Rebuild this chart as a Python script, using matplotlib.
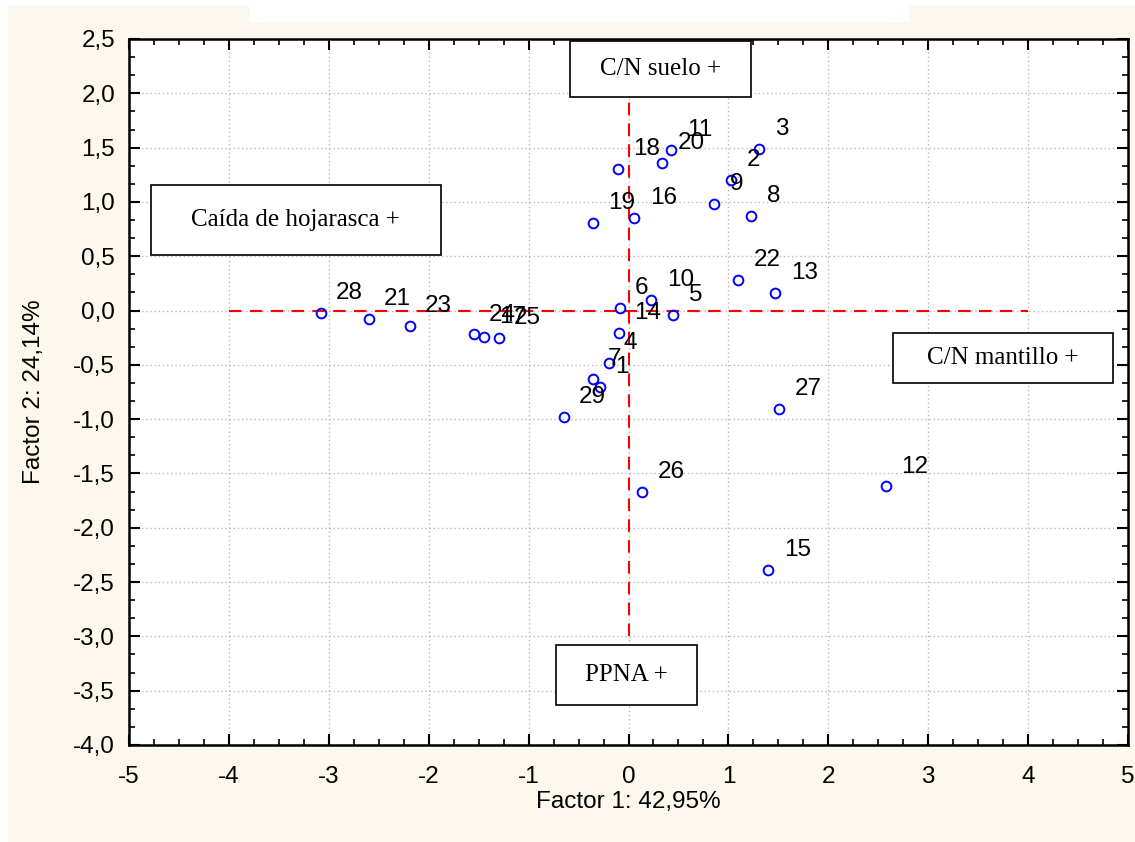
import matplotlib

matplotlib.use("Agg")
import matplotlib.pyplot as plt
from matplotlib.patches import Rectangle
from matplotlib.ticker import FuncFormatter, MultipleLocator

plt.rcParams["font.family"] = ["Liberation Sans", "DejaVu Sans"]

# PCA scores (Factor 1, Factor 2) for each site
site_ids = list(range(1, 30))
factor1 = [-0.29, 1.03, 1.31, -0.20, 0.45, -0.09, -0.36, 1.23, 0.86, 0.23,
           0.43, 2.58, 1.47, -0.10, 1.40, 0.06, -1.45, -0.11, -0.36, 0.34,
           -2.60, 1.10, -2.19, -1.55, -1.30, 0.14, 1.51, -3.08, -0.65]
factor2 = [-0.70, 1.20, 1.49, -0.48, -0.04, 0.02, -0.63, 0.87, 0.98, 0.10,
           1.48, -1.62, 0.16, -0.21, -2.39, 0.85, -0.24, 1.30, 0.81, 1.36,
           -0.08, 0.28, -0.14, -0.22, -0.25, -1.67, -0.91, -0.02, -0.98]

# interpretation boxes: text, x0, x1, y0, y1 (data units)
box_texts = ["C/N suelo +", "Caída de hojarasca +", "C/N mantillo +", "PPNA +"]
box_x = [(-0.59, 1.23), (-4.78, -1.88), (2.65, 4.85), (-0.73, 0.69)]
box_y = [(1.97, 2.48), (0.51, 1.155), (-0.67, -0.21), (-3.63, -3.08)]

W, H = 1135, 842
fig = plt.figure(figsize=(W / 100, H / 100), dpi=100)
fig.patch.set_facecolor("white")
# cream panel background, with the white notch on top
fig.patches.append(Rectangle((8 / W, 0), 1 - 8 / W, 1 - 6 / H,
                             transform=fig.transFigure, color="#fdf8ee", zorder=-10))
fig.patches.append(Rectangle((250 / W, 1 - 21 / H), 658 / W, 21 / H,
                             transform=fig.transFigure, color="white", zorder=-9))

ax = fig.add_axes([129 / W, 1 - 745 / H, 999 / W, 706 / H])
ax.set_facecolor("white")
ax.set_xlim(-5, 5)
ax.set_ylim(-4.0, 2.5)

ax.xaxis.set_major_locator(MultipleLocator(1))
ax.xaxis.set_minor_locator(MultipleLocator(0.25))
ax.yaxis.set_major_locator(MultipleLocator(0.5))
ax.yaxis.set_minor_locator(MultipleLocator(0.5 / 3))
ax.yaxis.set_major_formatter(FuncFormatter(lambda v, p: f"{v:.1f}".replace(".", ",")))
ax.xaxis.set_major_formatter(FuncFormatter(lambda v, p: f"{v:.0f}"))
ax.tick_params(which="both", direction="in", top=True, right=True,
               labelsize=17.5, colors="black")
ax.tick_params(which="major", length=8, width=1.5)
ax.tick_params(which="minor", length=4, width=1.2)
ax.tick_params(axis="x", pad=15)
ax.tick_params(axis="y", pad=10)
for s in ax.spines.values():
    s.set_linewidth(1.8)

ax.grid(True, which="major", color="#b8b8b8", linestyle=(0, (1, 2)), linewidth=1)
ax.set_axisbelow(True)

ax.plot([0, 0], [-3.0, 2.0], color="red", linestyle=(0, (6, 4)), linewidth=1.5, zorder=2)
ax.plot([-4, 4], [0, 0], color="red", linestyle=(0, (6, 4)), linewidth=1.5, zorder=2)

ax.plot(factor1, factor2, linestyle="none", marker="o", markersize=7,
        markerfacecolor="none", markeredgecolor="blue", markeredgewidth=1.4, zorder=3)
for sid, fx, fy in zip(site_ids, factor1, factor2):
    ax.annotate(str(sid), (fx, fy), xytext=(11, 10), textcoords="offset points",
                ha="left", va="baseline", fontsize=17.5, color="black", zorder=4)

for txt, (x0, x1), (y0, y1) in zip(box_texts, box_x, box_y):
    ax.add_patch(Rectangle((x0, y0), x1 - x0, y1 - y0, facecolor="white",
                           edgecolor="black", linewidth=1.2, zorder=5))
    ax.text((x0 + x1) / 2, (y0 + y1) / 2, txt, ha="center", va="center",
            fontsize=18, family=["Liberation Serif", "DejaVu Serif"], zorder=6)

ax.set_xlabel("Factor 1: 42,95%", fontsize=17.5, labelpad=2)
ax.set_ylabel("Factor 2: 24,14%", fontsize=17.5, labelpad=20)

fig.savefig("out.png", dpi=100, facecolor=fig.get_facecolor())
